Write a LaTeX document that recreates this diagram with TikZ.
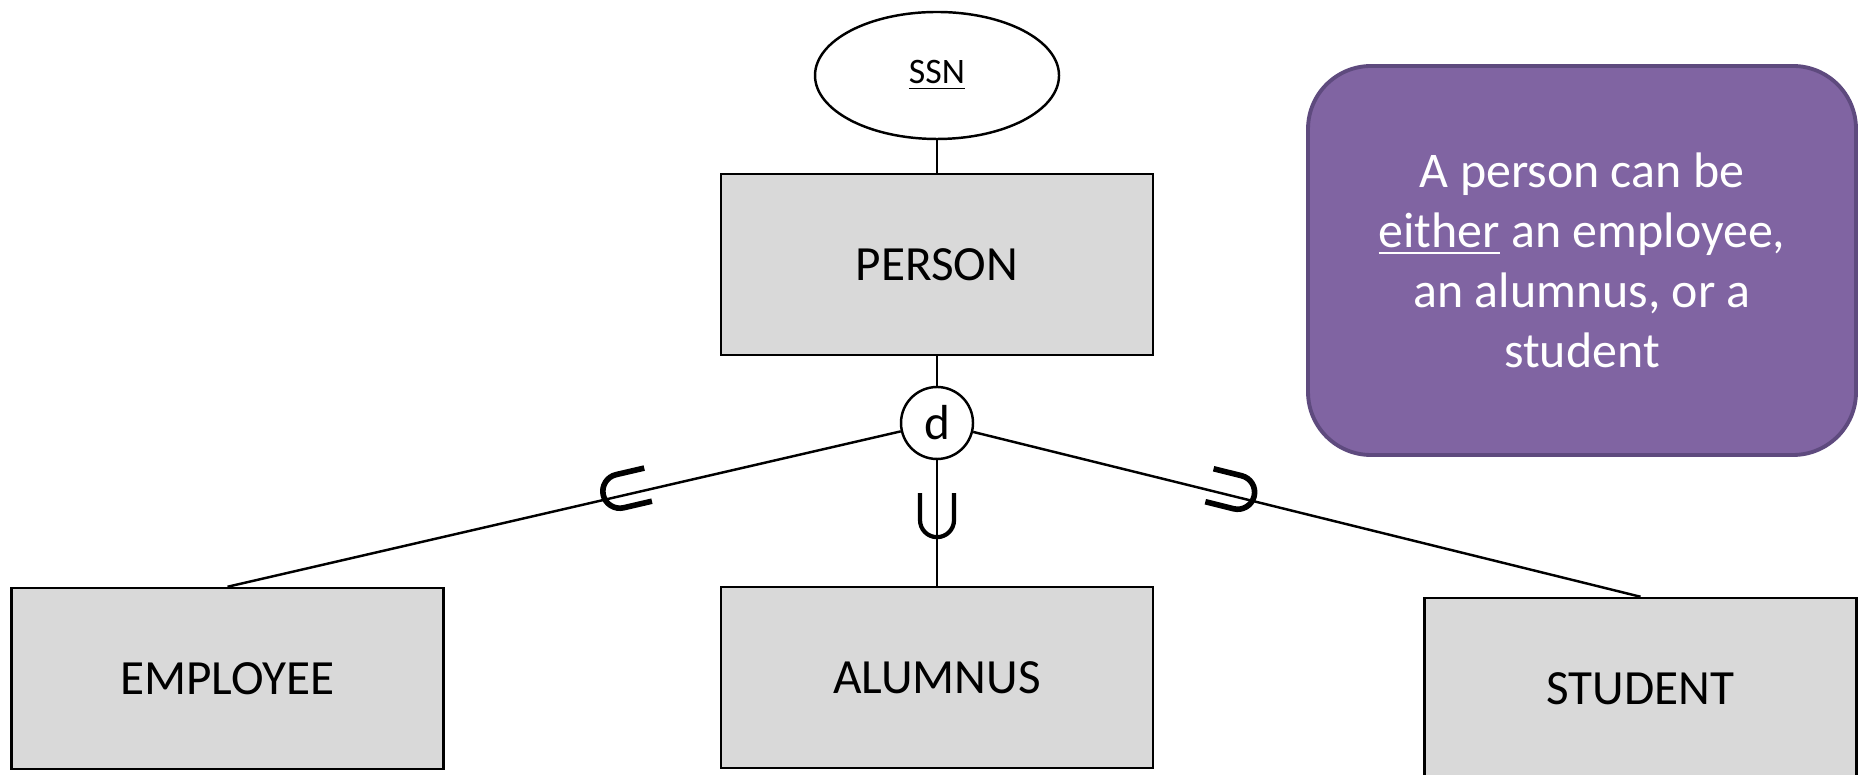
\documentclass[tikz,border=0pt]{standalone}
\usepackage{fontspec}
\setmainfont{Carlito}
\usetikzlibrary{shapes.geometric}
\definecolor{boxgray}{HTML}{D9D9D9}
\definecolor{notepurple}{HTML}{8064A2}
\definecolor{noteedge}{HTML}{5E4A7E}

\begin{document}
\begin{tikzpicture}[
	line width=0.7pt,
	entity/.style={draw, fill=boxgray, minimum width=4.32cm, minimum height=1.81cm, inner sep=0pt, font=\fontsize{14}{17}\selectfont},
	attr/.style={draw, ellipse, minimum width=2.44cm, minimum height=1.27cm, inner sep=0pt, font=\fontsize{10.2}{12}\selectfont},
	disj/.style={draw, circle, fill=white, minimum size=0.72cm, inner sep=0pt, font=\fontsize{14}{17}\selectfont},
	subset/.pic={\draw[line width=1.2pt] (-0.17,0.22) -- (-0.17,-0.05) arc (180:360:0.17) -- (0.17,0.22);},
	subsetbold/.pic={\draw[line width=1.6pt] (-0.17,0.24) -- (-0.17,-0.05) arc (180:360:0.17) -- (0.17,0.24);}
]
	\useasboundingbox (0,0) rectangle (18.6,7.74);
	\node[attr] (ssn) at (9.37,6.985) {\underline{SSN}};
	\node[entity] (person) at (9.37,5.095) {PERSON};
	\node[disj] (d) at (9.37,3.51) {d};
	\node[entity] (emp) at (2.275,0.955) {EMPLOYEE};
	\node[entity] (alum) at (9.37,0.965) {ALUMNUS};
	\node[entity] (stud) at (16.405,0.855) {STUDENT};
	\node[draw=noteedge, line width=1.1pt, fill=notepurple, rounded corners=0.63cm, minimum width=5.48cm, minimum height=3.89cm, text=white, align=center, font=\fontsize{14.2}{17.07}\selectfont] (note) at (15.82,5.135) {A person can be\\ \underline{either} an employee,\\ an alumnus, or a\\ student};
	\draw (ssn) -- (person);
	\draw (person) -- (d);
	\draw (d) -- (emp.north) coordinate[pos=0.41] (subemp);
	\draw (d) -- (alum.north) coordinate[pos=0.4375] (subalum);
	\draw (d) -- (stud.north) coordinate[pos=0.389] (substud);
	\pic[rotate=-76.9] at ([yshift=0.05cm]subemp) {subsetbold};
	\pic at (subalum) {subset};
	\pic[rotate=76] at ([yshift=0.05cm]substud) {subsetbold};
\end{tikzpicture}
\end{document}
